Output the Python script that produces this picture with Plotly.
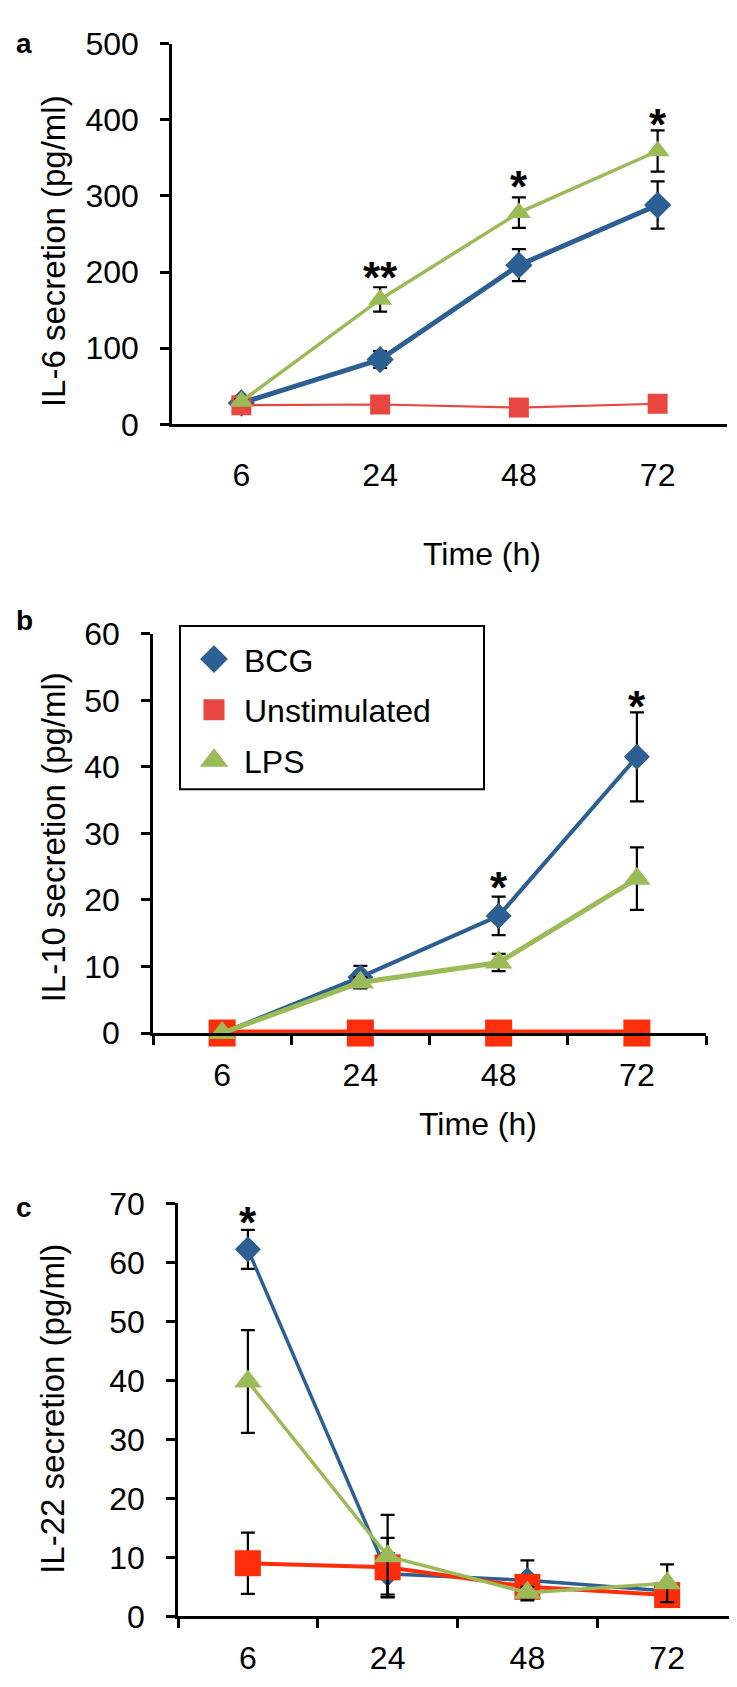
import plotly.graph_objects as go

W, H = 737, 1687

# ---------------- data ----------------
times = ["6", "24", "48", "72"]
series_names = ["BCG", "Unstimulated", "LPS"]

# Panel a: IL-6 (pg/ml)
il6_bcg = [28, 85, 209, 288]
il6_bcg_err = [3, 11, 21, 31]
il6_unstim = [25, 26, 22, 27]
il6_unstim_err = [0, 0, 0, 0]
il6_lps = [30, 164, 278, 359]
il6_lps_err = [3, 16, 20, 27]
il6_sig_x = ["24", "48", "72"]
il6_sig_y = [208, 328, 410]
il6_sig_txt = ["**", "*", "*"]

# Panel b: IL-10 (pg/ml)
il10_bcg = [0, 8.4, 17.6, 41.5]
il10_bcg_err = [0, 1.7, 2.9, 6.7]
il10_unstim = [0, 0, 0, 0]
il10_unstim_err = [0, 0, 0, 0]
il10_lps = [0, 7.6, 10.6, 23.2]
il10_lps_err = [0, 0.8, 1.3, 4.7]
il10_sig_x = ["48", "72"]
il10_sig_y = [23.6, 50.9]
il10_sig_txt = ["*", "*"]

# Panel c: IL-22 (pg/ml)
il22_bcg = [62.2, 7.2, 6.1, 4.3]
il22_bcg_err = [3.3, 3.5, 3.4, 1.0]
il22_unstim = [9.0, 8.3, 5.0, 3.6]
il22_unstim_err = [5.2, 5.0, 1.0, 1.0]
il22_lps = [39.8, 10.2, 4.0, 5.6]
il22_lps_err = [8.7, 7.0, 1.0, 3.2]
il22_sig_x = ["6"]
il22_sig_y = [68.7]
il22_sig_txt = ["*"]

# ---------------- style ----------------
BLUE = "#2C5F93"
GREEN = "#9BBB59"
RED_A = "#E8473F"
RED_BC = "#FF2D0A"
FONT = "Liberation Sans, Arial, sans-serif"


def px_x(p):
    return p / W


def px_y(p):
    return (H - p) / H


panels = [
    dict(ax="", xr=(164, 719), yr=(18, 407), yrange=[0, 500], dtick=100,
         data=[(il6_bcg, il6_bcg_err), (il6_unstim, il6_unstim_err), (il6_lps, il6_lps_err)],
         colors=[BLUE, RED_A, GREEN], lw=[5, 2.2, 3.5], ms=[21, 20, 21], xticks=False,
         ytitle="IL-6 secretion (pg/ml)", ytitle_y=230,
         sig=(il6_sig_x, il6_sig_y, il6_sig_txt)),
    dict(ax="2", xr=(145, 698), yr=(621, 1029), yrange=[0, 60], dtick=10,
         data=[(il10_bcg, il10_bcg_err), (il10_unstim, il10_unstim_err), (il10_lps, il10_lps_err)],
         colors=[BLUE, RED_BC, GREEN], lw=[4, 7, 5], ms=[20, 27, 24], xticks=True,
         ytitle="IL-10 secretion (pg/ml)", ytitle_y=829,
         sig=(il10_sig_x, il10_sig_y, il10_sig_txt)),
    dict(ax="3", xr=(170, 729), yr=(1203, 1625), yrange=[0, 70], dtick=10,
         data=[(il22_bcg, il22_bcg_err), (il22_unstim, il22_unstim_err), (il22_lps, il22_lps_err)],
         colors=[BLUE, RED_BC, GREEN], lw=[3.5, 4, 3.5], ms=[20, 26, 24], xticks=True,
         ytitle="IL-22 secretion (pg/ml)", ytitle_y=1413,
         sig=(il22_sig_x, il22_sig_y, il22_sig_txt)),
]

symbols = ["diamond", "square", "triangle-up"]

fig = go.Figure()
layout = dict(
    width=W, height=H,
    margin=dict(l=0, r=0, t=0, b=0),
    paper_bgcolor="white", plot_bgcolor="white",
    font=dict(family=FONT, color="black", size=32),
    showlegend=True,
    annotations=[],
    shapes=[],
)

for p in panels:
    xa = "x" + p["ax"]
    ya = "y" + p["ax"]
    for i, (vals, errs) in enumerate(p["data"]):
        fig.add_trace(go.Scatter(
            x=times, y=vals, xaxis=xa, yaxis=ya,
            mode="lines+markers", name=series_names[i], showlegend=False,
            line=dict(color=p["colors"][i], width=p["lw"][i]),
            marker=dict(symbol=symbols[i], size=p["ms"][i], color=p["colors"][i],
                        line=dict(width=0)),
            error_y=dict(type="data", array=errs, visible=True, color="black",
                         thickness=2.2, width=7),
            cliponaxis=False,
        ))
    xkey = "xaxis" + p["ax"]
    ykey = "yaxis" + p["ax"]
    layout[xkey] = dict(
        domain=[px_x(p["xr"][0]), px_x(p["xr"][1])],
        anchor=ya, type="category", categoryorder="array", categoryarray=times,
        range=[-0.5, 3.5], showgrid=False, zeroline=False,
        showline=True, linecolor="black", linewidth=2.5,
        ticks="outside" if p["xticks"] else "", ticklen=9, tickwidth=2.5, tickcolor="black",
        tickson="boundaries",
        tickfont=dict(size=32, family=FONT), ticklabelstandoff=12 if p["xticks"] else 21,
    )
    layout[ykey] = dict(
        domain=[px_y(p["yr"][1]), px_y(p["yr"][0])],
        anchor=xa, range=p["yrange"], dtick=p["dtick"], tick0=0,
        showgrid=False, zeroline=False,
        showline=True, linecolor="black", linewidth=2.5,
        ticks="outside", ticklen=9, tickwidth=2.5, tickcolor="black",
        tickfont=dict(size=32, family=FONT), ticklabelstandoff=15,
    )
    layout["annotations"].append(dict(
        text=p["ytitle"], xref="paper", yref="paper", x=px_x(45), y=px_y(p["ytitle_y"]),
        textangle=-90, showarrow=False, font=dict(size=33, family=FONT),
        xanchor="center", yanchor="middle"))
    sx, sy, st = p["sig"]
    for xv, yv, tv in zip(sx, sy, st):
        layout["annotations"].append(dict(
            text="<b>%s</b>" % tv, x=times.index(xv), y=yv, xref=xa, yref=ya, showarrow=False,
            font=dict(size=44, family=FONT), xanchor="center", yanchor="middle",
            yshift=-12))

for tx, ty in [(474, 540), (470, 1122)]:
    layout["annotations"].append(dict(
        text="Time (h)", xref="paper", yref="paper", x=px_x(tx), y=px_y(ty),
        showarrow=False, font=dict(size=32, family=FONT), xanchor="center", yanchor="middle"))

for lt, ly in [("a", 18), ("b", 607), ("c", 1207)]:
    layout["annotations"].append(dict(
        text="<b>%s</b>" % lt, xref="paper", yref="paper", x=px_x(6), y=px_y(ly),
        showarrow=False, font=dict(size=28, family=FONT), xanchor="left", yanchor="middle"))

# legend frame (panel b)
layout["shapes"].append(dict(
    type="rect", xref="paper", yref="paper",
    x0=px_x(172), x1=px_x(476), y0=px_y(780), y1=px_y(613),
    line=dict(color="black", width=2), fillcolor="rgba(0,0,0,0)", layer="above"))

legend_colors = [BLUE, RED_A, GREEN]
for i, nm in enumerate(series_names):
    fig.add_trace(go.Scatter(
        x=[None], y=[None], xaxis="x2", yaxis="y2", mode="markers", name=nm,
        legendgroup=nm, showlegend=True,
        marker=dict(symbol=symbols[i], size=16, color=legend_colors[i],
                    line=dict(width=5, color=legend_colors[i])),
    ))

layout["legend"] = dict(
    x=px_x(176), y=px_y(619), xanchor="left", yanchor="top",
    borderwidth=0, bgcolor="rgba(255,255,255,0)",
    font=dict(size=32, family=FONT), tracegroupgap=6,
    itemsizing="trace", itemwidth=50,
)

fig.update_layout(**layout)
fig.write_html("out.html")
